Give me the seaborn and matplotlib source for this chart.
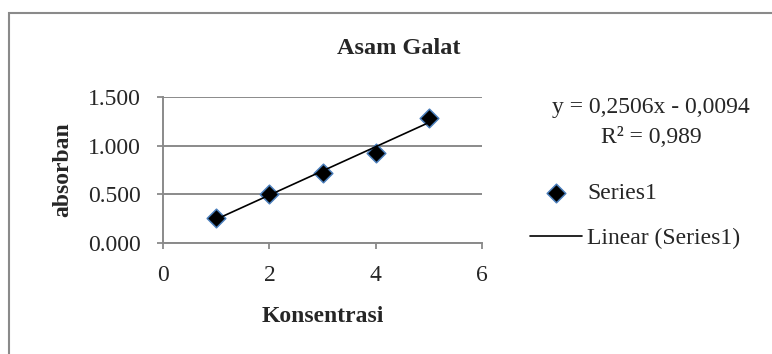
import numpy as np
import pandas as pd
import matplotlib
matplotlib.use("Agg")
import matplotlib.pyplot as plt
import seaborn as sns
from matplotlib.patches import Rectangle

# ========== DATA ==========
konsentrasi = [1, 2, 3, 4, 5]
absorban = [0.258, 0.503, 0.722, 0.929, 1.290]
y_ticks = [0.0, 0.5, 1.0, 1.5]
y_tick_labels = ["0.000", "0.500", "1.000", "1.500"]
x_ticks = [0, 2, 4, 6]
x_tick_labels = ["0", "2", "4", "6"]
persamaan = "y = 0,2506x - 0,0094"
r_kuadrat = "R² = 0,989"

df = pd.DataFrame({"Konsentrasi": konsentrasi, "absorban": absorban})

# ========== STYLE ==========
sns.set_style("white")
plt.rcParams["font.family"] = ["Liberation Serif", "DejaVu Serif"]

W, H = 772, 354
GRAY = "#8a8a8a"
FS = 17


def px(x, y):
    # piksel -> koordinat figure
    return x / W, 1 - y / H


fig = plt.figure(figsize=(W / 100, H / 100), dpi=100)
ax = fig.add_axes([163.3 / W, 1 - 242.7 / H, (481.7 - 163.3) / W, (242.7 - 97.3) / H])

# bingkai chart (terpotong di kanan dan bawah)
fig.patches.append(Rectangle(px(8.5, 400), 1.2, (400 - 12.5) / H, transform=fig.transFigure,
                             fill=False, edgecolor=GRAY, linewidth=1.5))

# ========== PLOT ==========
sns.scatterplot(data=df, x="Konsentrasi", y="absorban", marker="D", s=90,
                color="black", edgecolor="#4A7EBB", linewidth=1.1,
                label="Series1", zorder=3, ax=ax)
sns.regplot(data=df, x="Konsentrasi", y="absorban", scatter=False, ci=None,
            label="Linear (Series1)", ax=ax,
            line_kws=dict(color="black", linewidth=1.2, zorder=4))

ax.set_xlim(0, 6)
ax.set_ylim(0, 1.5)
ax.set_xticks(x_ticks)
ax.set_xticklabels(x_tick_labels)
ax.set_yticks(y_ticks)
ax.set_yticklabels(y_tick_labels)
ax.tick_params(axis="both", labelsize=FS, length=4.1, width=1.3, color=GRAY,
               direction="out", pad=12, left=True, bottom=True)
ax.yaxis.grid(True, color=GRAY, linewidth=1.4)
ax.xaxis.grid(False)
ax.set_axisbelow(True)
for side in ["top", "right"]:
    ax.spines[side].set_visible(False)
for side in ["left", "bottom"]:
    ax.spines[side].set_color(GRAY)
    ax.spines[side].set_linewidth(1.4)

ax.set_xlabel("Konsentrasi", fontsize=FS, fontweight="bold", va="baseline")
ax.xaxis.set_label_coords(0.5, (242.7 - 321.7) / 145.4)
ax.set_ylabel("absorban", fontsize=FS, fontweight="bold", va="baseline")
ax.yaxis.set_label_coords((68.3 - 163.3) / 318.4, 0.5)

fig.text(*px(398.7, 54.3), "Asam Galat", fontsize=FS + 0.5, fontweight="bold",
         ha="center", va="baseline")
fig.text(*px(651, 113.3), persamaan, fontsize=FS, ha="center", va="baseline")
fig.text(*px(651, 143.3), r_kuadrat, fontsize=FS, ha="center", va="baseline")

ax.legend(loc="center left", bbox_to_anchor=px(530, 216), bbox_transform=fig.transFigure,
          frameon=False, fontsize=FS, handlelength=2.2, handletextpad=0.22,
          labelspacing=1.0, borderpad=0, borderaxespad=0)

plt.savefig("out.png", dpi=100)
plt.close()
